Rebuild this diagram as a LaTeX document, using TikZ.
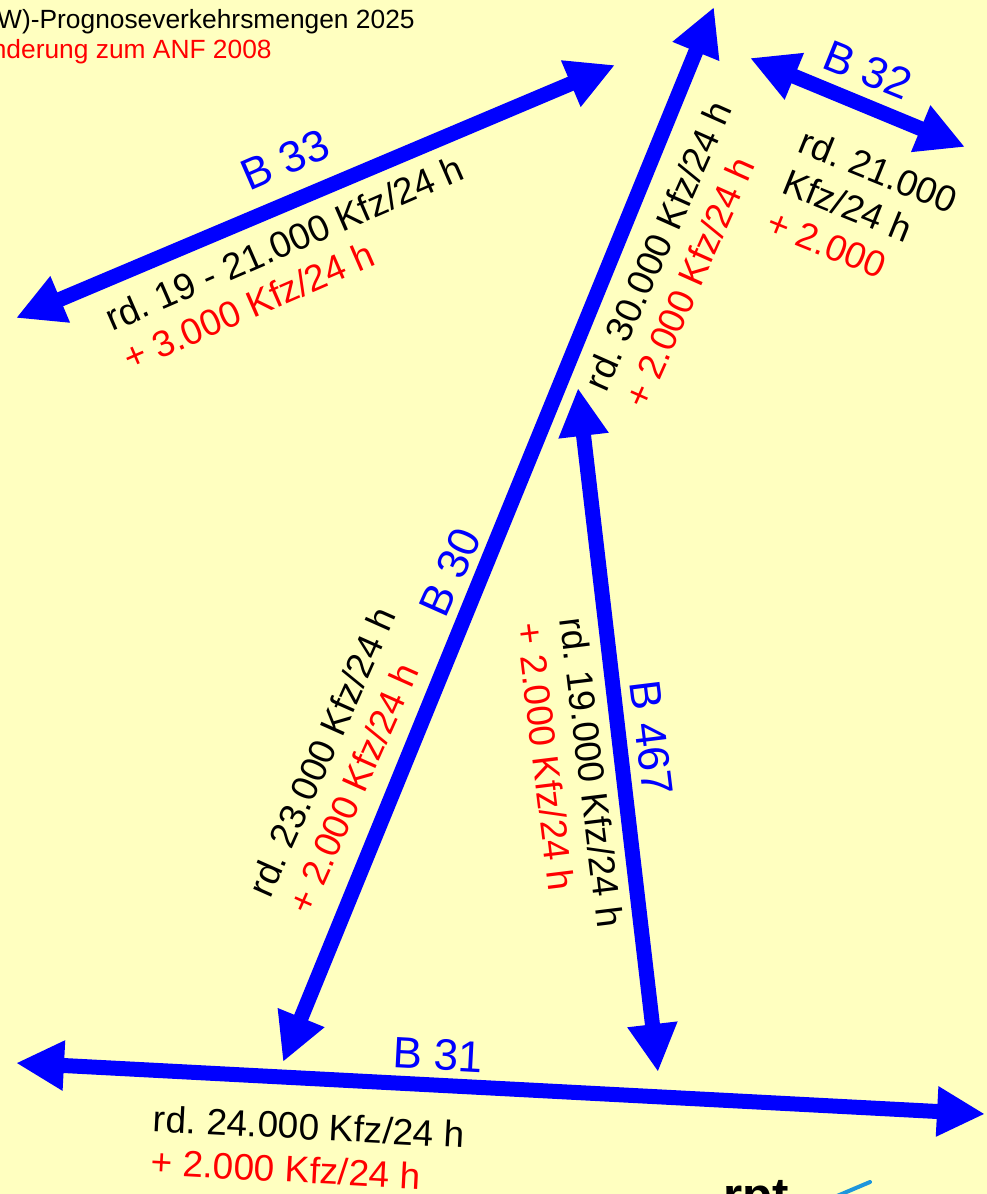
\documentclass[tikz,border=0pt]{standalone}
\usepackage{fontspec}
\setmainfont{Liberation Sans}
\usetikzlibrary{arrows.meta,positioning}
\frenchspacing
\definecolor{hgrund}{RGB}{255,255,192}
\definecolor{logoblau}{RGB}{30,150,220}
\tikzset{
  strasse/.style={draw=blue,line width=0.3cm,
                  {Triangle[length=0.96cm,width=0.94cm]}-{Triangle[length=0.96cm,width=0.94cm]}},
  bnr/.style={text=blue,inner sep=0pt,font=\fontsize{25}{30}\selectfont},
  menge/.style={align=left,inner sep=0pt,anchor=west,font=\fontsize{21}{24.8}\selectfont},
  kopf/.style={inner sep=0pt,anchor=base east,font=\fontsize{15}{18}\selectfont},
}

\begin{document}
\begin{tikzpicture}[x=0.02cm,y=-0.02cm]
  \useasboundingbox (0,0) rectangle (987,1194);
  \clip (0,0) rectangle (987,1194);
  \fill[hgrund] (0,0) rectangle (987,1194);

  \node[kopf] (titel) at (415,28) {W)-Prognoseverkehrsmengen 2025};
  \node[kopf,text=red] (untertitel) at (272,58) {nderung zum ANF 2008};

  \coordinate (b33a) at (16,318);
  \coordinate (b33b) at (615,65);
  \coordinate (b30a) at (283,1062);
  \coordinate (b30b) at (714,7);
  \coordinate (b32a) at (750,58);
  \coordinate (b32b) at (965,147);
  \coordinate (b467a) at (578,388);
  \coordinate (b467b) at (658,1072);
  \coordinate (b31a) at (16,1063);
  \coordinate (b31b) at (985,1114);

  \draw[strasse] (b33a) -- (b33b);
  \draw[strasse] (b30a) -- (b30b);
  \draw[strasse] (b32a) -- (b32b);
  \draw[strasse] (b467a) -- (b467b);
  \draw[strasse] (b31a) -- (b31b);

  \node[bnr,rotate=23.5] (n33) at (285,160) {B 33};
  \node[menge,rotate=23.5] (m33) at (116,340) {rd. 19 - 21.000 Kfz/24 h\\\textcolor{red}{+ 3.000 Kfz/24 h}};

  \node[bnr,rotate=66] (n30) at (450,572) {B 30};
  \node[menge,rotate=66] (m30s) at (278,903) {rd. 23.000 Kfz/24 h\\\textcolor{red}{+ 2.000 Kfz/24 h}};
  \node[menge,rotate=66] (m30n) at (614,397) {rd. 30.000 Kfz/24 h\\\textcolor{red}{+ 2.000 Kfz/24 h}};

  \node[bnr,rotate=-22] (n32) at (868,70) {B 32};
  \node[menge,rotate=-22] (m32) at (785,180) {rd. 21.000\\Kfz/24 h\\\textcolor{red}{+ 2.000}};

  \node[bnr,rotate=-83] (n467) at (651,738) {B 467};
  \node[menge,rotate=-83] (m467) at (551,620) {rd. 19.000 Kfz/24 h\\\textcolor{red}{+ 2.000 Kfz/24 h}};

  \node[bnr,rotate=-3] (n31) at (438,1055) {B 31};
  \node[menge,rotate=-3] (m31) at (152,1140) {rd. 24.000 Kfz/24 h\\\textcolor{red}{+ 2.000 Kfz/24 h}};

  \node[inner sep=0pt,anchor=base west,font=\bfseries\fontsize{28}{30}\selectfont] (logo) at (723,1212) {rpt};
  \draw[logoblau,line width=0.08cm,line cap=round] (837,1196) -- (870,1182);
\end{tikzpicture}
\end{document}
